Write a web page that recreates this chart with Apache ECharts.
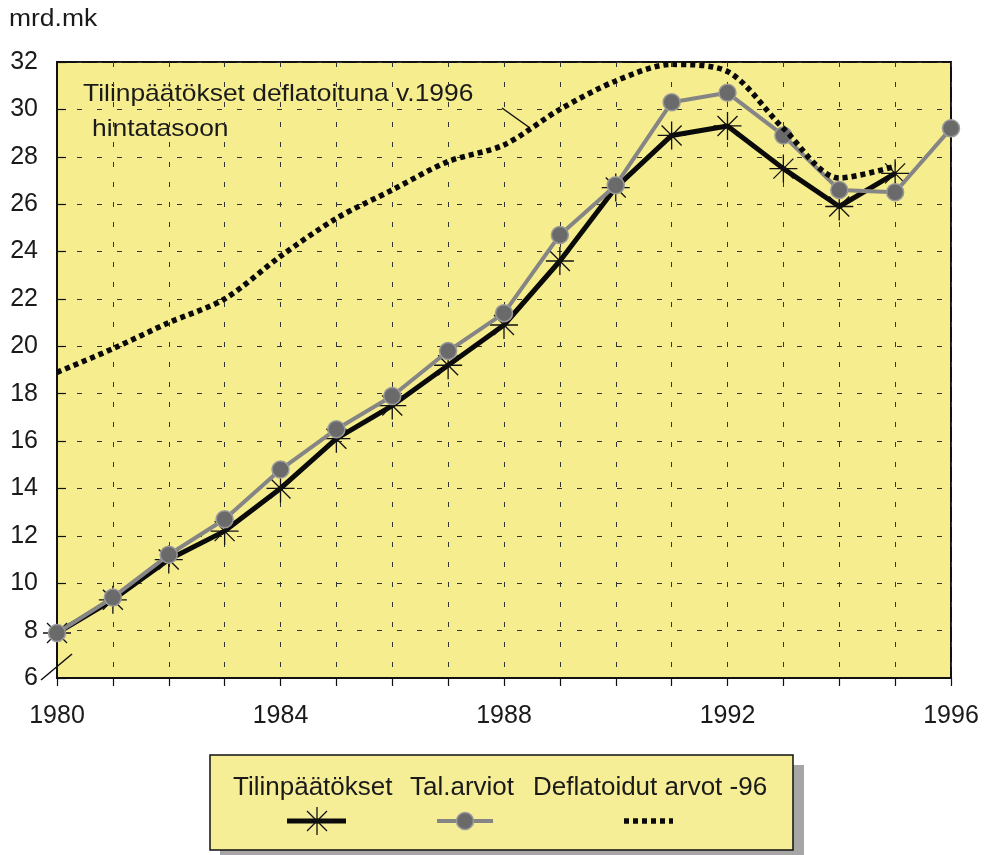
<!DOCTYPE html>
<html>
<head>
<meta charset="utf-8">
<script src="https://cdn.jsdelivr.net/npm/echarts@6/dist/echarts.min.js"></script>
<style>
html,body{margin:0;padding:0;background:#fff;}
#chart{width:986px;height:855px;}
</style>
</head>
<body>
<div id="chart"></div>
<script>
// ---- data ----
const years = [1980,1981,1982,1983,1984,1985,1986,1987,1988,1989,1990,1991,1992,1993,1994,1995,1996];
const tilinpaatokset = [7.9,9.3,11.0,12.2,14.0,16.1,17.5,19.2,20.9,23.6,26.7,28.9,29.3,27.5,25.9,27.3];
const talArviot = [7.9,9.4,11.2,12.7,14.8,16.5,17.9,19.8,21.4,24.7,26.8,30.3,30.7,28.9,26.6,26.5,29.2];
const deflatoidut = [18.9,19.9,21.0,22.0,23.8,25.4,26.6,27.8,28.5,30.0,31.2,31.9,31.6,29.2,27.1,27.6];
const legendNames = ['Tilinpäätökset','Tal.arviot','Deflatoidut arvot -96'];
const xLabelYears = [1980,1984,1988,1992,1996];
const yUnit = 'mrd.mk';
const annotationLines = ['Tilinpäätökset deflatoituna v.1996','hintatasoon'];

const FONT = '"Liberation Sans", Arial, Helvetica, sans-serif';
const pair = (arr) => arr.map((v,i) => [years[i], v]);
const STAR = 'path://M0,-14 L0,14 M-14,0 L14,0 M-10,-10 L10,10 M-10,10 L10,-10';

const chart = echarts.init(document.getElementById('chart'), null, {renderer:'canvas'});
const gridDash = {color:'#333', width:1, type:[5,15]};

function txt(x, y, text, size, sx, align){
  return {type:'text', x:x, y:y, scaleX:sx||1,
    style:{x:0, y:0, text:text, font:size+'px '+FONT, fill:'#1a1a1a', textAlign:align||'left', textVerticalAlign:'middle'}};
}

const option = {
  backgroundColor:'#ffffff',
  animation:false,
  grid:{left:57, right:35, top:62, bottom:177, show:true, backgroundColor:'#f6ed8e', borderColor:'#111', borderWidth:2},
  xAxis:{
    type:'value', min:1980, max:1996, interval:1,
    axisLine:{show:true, lineStyle:{color:'#111', width:2}},
    axisTick:{show:true, inside:false, length:8, lineStyle:{color:'#111', width:1.2}},
    axisLabel:{margin:26, fontFamily:FONT, fontSize:25, color:'#1a1a1a',
      formatter:(v)=> xLabelYears.indexOf(v) >= 0 ? String(v) : ''},
    splitLine:{show:true, lineStyle:gridDash}
  },
  yAxis:{
    type:'value', min:6, max:32, interval:2,
    axisLine:{show:true, lineStyle:{color:'#111', width:2}},
    axisTick:{show:true, inside:true, length:9, lineStyle:{color:'#111', width:1.2}},
    axisLabel:{margin:19, fontFamily:FONT, fontSize:25, color:'#1a1a1a'},
    splitLine:{show:true, lineStyle:gridDash}
  },
  series:[
    {
      name:legendNames[0], type:'line', data:pair(tilinpaatokset),
      symbol:STAR, symbolSize:28,
      itemStyle:{color:'rgba(0,0,0,0)', borderColor:'#111', borderWidth:1.3},
      lineStyle:{color:'#0a0a0a', width:5, join:'round'},
      z:3
    },
    {
      name:legendNames[1], type:'line', data:pair(talArviot),
      symbol:'circle', symbolSize:17,
      itemStyle:{color:'#6a6a6a', borderColor:'#9a9a9a', borderWidth:1.5},
      lineStyle:{color:'#858585', width:4},
      z:4
    },
    {
      name:legendNames[2], type:'line', data:pair(deflatoidut),
      symbol:'none', smooth:0.3,
      lineStyle:{color:'#0a0a0a', width:5.5, type:[5,4]},
      z:5
    }
  ],
  graphic:[
    // unit label
    txt(9, 20, yUnit, 23, 1.15),
    // annotation
    txt(83, 94.5, annotationLines[0], 24, 1.1),
    txt(92, 129.5, annotationLines[1], 24, 1.1),
    {type:'line', shape:{x1:502,y1:108,x2:530,y2:128}, style:{stroke:'#111', lineWidth:1.5}},
    // axis break mark near 6
    {type:'line', shape:{x1:41,y1:680,x2:72,y2:654}, style:{stroke:'#111', lineWidth:1.5}},
    // legend box
    {type:'rect', shape:{x:220,y:765,width:584,height:95}, style:{fill:'#a6a6a6'}},
    {type:'rect', shape:{x:210,y:755,width:583,height:95}, style:{fill:'#f6ee96', stroke:'#111', lineWidth:1.5}},
    txt(233, 788, legendNames[0], 26),
    txt(410, 788, legendNames[1], 26),
    txt(533, 788, legendNames[2], 26),
    // legend symbol 1
    {type:'line', shape:{x1:287,y1:821,x2:346,y2:821}, style:{stroke:'#0a0a0a', lineWidth:5}},
    {type:'line', shape:{x1:317,y1:807,x2:317,y2:835}, style:{stroke:'#111', lineWidth:1.3}},
    {type:'line', shape:{x1:303,y1:821,x2:331,y2:821}, style:{stroke:'#111', lineWidth:1.3}},
    {type:'line', shape:{x1:307,y1:811,x2:327,y2:831}, style:{stroke:'#111', lineWidth:1.3}},
    {type:'line', shape:{x1:307,y1:831,x2:327,y2:811}, style:{stroke:'#111', lineWidth:1.3}},
    // legend symbol 2
    {type:'line', shape:{x1:437,y1:821,x2:493,y2:821}, style:{stroke:'#858585', lineWidth:4}},
    {type:'circle', shape:{cx:465,cy:821,r:8.5}, style:{fill:'#6a6a6a', stroke:'#9a9a9a', lineWidth:1.5}},
    // legend symbol 3
    {type:'line', shape:{x1:624,y1:821,x2:673,y2:821}, style:{stroke:'#0a0a0a', lineWidth:5.5, lineDash:[5,4]}}
  ]
};
chart.setOption(option);
</script>
</body>
</html>
